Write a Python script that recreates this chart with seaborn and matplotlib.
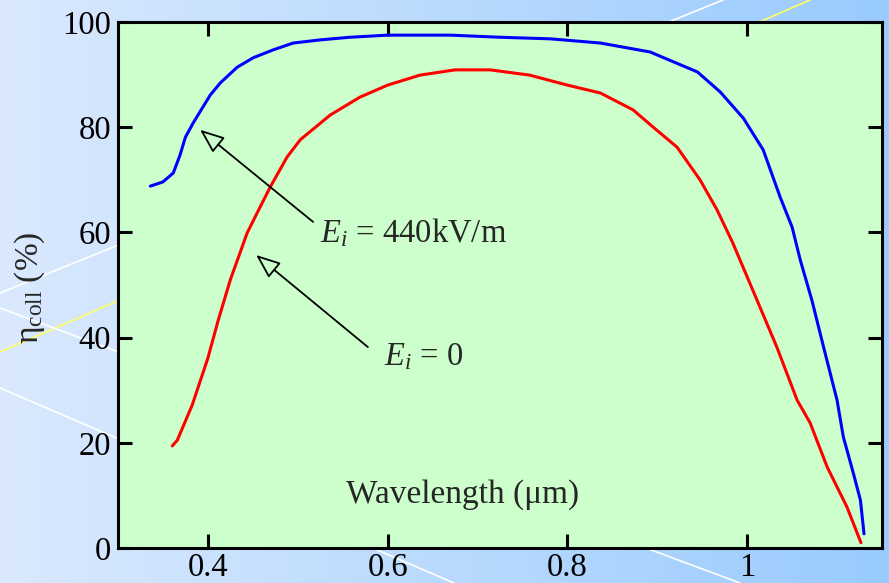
import numpy as np
import matplotlib
matplotlib.use('Agg')
import matplotlib.pyplot as plt
import seaborn as sns
from matplotlib.colors import LinearSegmentedColormap

# ------------------------------------------------------------
# data (wavelength in um, efficiency in %)
# ------------------------------------------------------------
wl_field = [0.336, 0.350, 0.3615, 0.369, 0.375, 0.3836, 0.4026, 0.4137, 0.4326,
            0.4504, 0.4726, 0.4949, 0.525, 0.558, 0.600, 0.670, 0.725, 0.781,
            0.8367, 0.892, 0.9447, 0.970, 0.9958, 1.0178, 1.0367, 1.050, 1.059,
            1.072, 1.085, 1.100, 1.107, 1.118, 1.126, 1.130]
eta_field = [68.8, 69.6, 71.3, 74.7, 78.1, 80.8, 86.1, 88.4, 91.4,
             93.2, 94.7, 96.0, 96.6, 97.1, 97.5, 97.5, 97.1, 96.8,
             96.0, 94.3, 90.5, 86.7, 81.7, 75.7, 66.7, 61.0, 54.8,
             47.1, 38.2, 28.1, 21.1, 14.3, 9.1, 2.7]

wl_zero = [0.3604, 0.366, 0.3826, 0.400, 0.4115, 0.425, 0.4437, 0.4548,
           0.4693, 0.488, 0.5027, 0.536, 0.569, 0.600, 0.636, 0.675, 0.714,
           0.758, 0.800, 0.8367, 0.873, 0.8955, 0.922, 0.9475, 0.9664, 0.984,
           1.011, 1.033, 1.0556, 1.070, 1.089, 1.111, 1.1266]
eta_zero = [19.4, 20.5, 27.2, 36.1, 43.3, 51.0, 59.9, 63.7,
            68.6, 74.3, 77.6, 82.3, 85.7, 88.0, 89.9, 90.9, 90.9,
            89.9, 88.0, 86.5, 83.3, 80.0, 76.2, 70.0, 64.3, 58.0,
            47.1, 38.2, 28.1, 23.8, 15.4, 7.8, 1.0]

x_ticks = [0.4, 0.6, 0.8, 1.0]
x_tick_labels = ['0.4', '0.6', '0.8', '1']
y_ticks = [0, 20, 40, 60, 80, 100]

# annotation text and arrows (data coords)
label_field = r'$E_i$ = 440kV/m'
label_zero = r'$E_i$ = 0'
arrow_field = ((0.3914, 79.5), (0.517, 62.0))   # head, tail
arrow_zero = ((0.4537, 55.7), (0.578, 38.2))
text_field_pos = (0.525, 58.2)
text_zero_pos = (0.596, 34.8)

# slide decoration lines (pixel coords of the 889x583 canvas)
deco_lines = [
    ((0, 293), (723, 0), 'white'),
    ((0, 352), (810, 0), '#ffff66'),
    ((0, 308), (740, 583), 'white'),
    ((0, 388), (454, 583), 'white'),
]

# ------------------------------------------------------------
# style
# ------------------------------------------------------------
sns.set_style('ticks')
plt.rcParams['font.family'] = ['Liberation Serif', 'DejaVu Serif']
plt.rcParams['mathtext.fontset'] = 'custom'
plt.rcParams['mathtext.rm'] = 'Liberation Serif'
plt.rcParams['mathtext.it'] = 'Liberation Serif:italic'

fig = plt.figure(figsize=(8.89, 5.83), dpi=100)

# gradient background of the slide
bg = fig.add_axes([0, 0, 1, 1], zorder=0)
grad_cmap = LinearSegmentedColormap.from_list('slide', ['#dae9fd', '#99cbfe'])
bg.imshow(np.linspace(0, 1, 256).reshape(1, -1), cmap=grad_cmap,
          aspect='auto', extent=[0, 889, 583, 0])
for (x0, y0), (x1, y1), c in deco_lines:
    bg.plot([x0, x1], [y0, y1], color=c, lw=1.2)
bg.set_xlim(0, 889)
bg.set_ylim(583, 0)
bg.axis('off')

ax = fig.add_axes([118 / 889, 35 / 583, 764 / 889, 526 / 583], zorder=1)
ax.set_facecolor('#ccffcc')

sns.lineplot(x=wl_field, y=eta_field, sort=False, color='#0000ff', lw=2.2, ax=ax)
sns.lineplot(x=wl_zero, y=eta_zero, sort=False, color='#ff0000', lw=2.2, ax=ax)

ax.set_xlim(0.3, 1.15)
ax.set_ylim(0, 100)
ax.set_xticks(x_ticks)
ax.set_xticklabels(x_tick_labels)
ax.set_yticks(y_ticks)
ax.tick_params(direction='in', length=10, width=2.2, labelsize=23.5,
               top=True, right=True, pad=5, colors='black')
ax.tick_params(axis='x', pad=3)
for s in ax.spines.values():
    s.set_linewidth(2.2)
    s.set_color('black')

ax.set_xlabel('Wavelength (\u03bcm)', fontsize=24)
ax.xaxis.label.set_va('baseline')
ax.xaxis.set_label_coords(0.4516, 0.0856)
ax.set_ylabel(r'$\mathrm{\eta}_{\mathrm{coll}}$ (%)', fontsize=24)
ax.yaxis.set_label_coords(-0.093, 0.494)

arrow_kw = dict(arrowstyle='-|>,head_length=0.75,head_width=0.3',
                fc='#ccffcc', ec='black', lw=1.3, mutation_scale=20,
                shrinkA=0, shrinkB=0)
for head, tail in [arrow_field, arrow_zero]:
    ax.annotate('', xy=head, xytext=tail, arrowprops=arrow_kw)

ax.text(*text_field_pos, label_field, fontsize=23.5, va='baseline', ha='left')
ax.text(*text_zero_pos, label_zero, fontsize=23.5, va='baseline', ha='left')

plt.savefig('out.png', dpi=100)
